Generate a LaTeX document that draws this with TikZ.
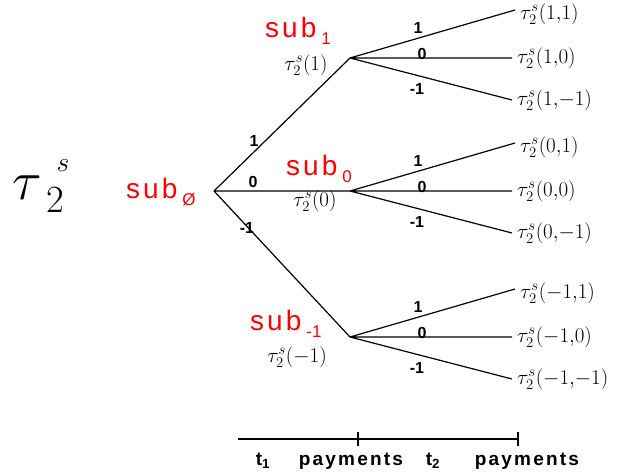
\RequirePackage{fix-cm}
\documentclass[tikz,border=0pt]{standalone}
\usepackage{fontspec}
\setsansfont{Liberation Sans}
\usetikzlibrary{calc,positioning}
\tikzset{
  branch/.style   = {line width=1.2pt},
  axisline/.style = {line width=2.2pt},
  lab/.style      = {font=\sffamily\bfseries\fontsize{16}{18}\selectfont, inner sep=1pt},
  leaf/.style     = {anchor=west, inner xsep=5pt, inner ysep=1pt, font=\fontsize{21}{23}\selectfont},
  tauname/.style  = {font=\fontsize{21}{23}\selectfont, inner sep=1pt},
  subname/.style  = {anchor=base west, text=red, font=\sffamily\fontsize{28}{30}\selectfont, inner sep=0pt},
  axlab/.style    = {font=\sffamily\bfseries\fontsize{19}{21}\selectfont, inner sep=1pt},
}
% spaced letters, as in the slide
\def\spread#1{\spreadloop#1\relax}
\def\spreadloop#1{\ifx#1\relax\else#1\kern2.2pt\expandafter\spreadloop\fi}
\newcommand{\subword}[1]{s\kern3pt u\kern3pt b\kern5pt\raisebox{-7pt}{\fontsize{17}{18}\selectfont #1}}

\begin{document}
\begin{tikzpicture}[x=1pt,y=-1pt]
  \useasboundingbox (0,0) rectangle (620,475);
  % vertices of the tree
  \coordinate (root) at (214,191);
  \coordinate (s1)   at (350,58);
  \coordinate (s0)   at (350,191);
  \coordinate (sm1)  at (350,337);
  \node[font=\fontsize{55}{60}\selectfont] (title) at (41,186)
    {$\tau_{\mkern5mu 2}^{\mkern7mu\raisebox{8pt}{$\scriptscriptstyle s$}}$};
  \node[subname] (nroot) at (126,198) {\subword{Ø}};
  \node[subname] (n1)  at (265,37)  {\subword{1}};
  \node[subname] (n0)  at (286,175) {\subword{0}};
  \node[subname] (nm1) at (250,330) {\subword{-1}};
  \node[tauname] (t1)  at (306,65)  {$\tau_2^s(1)$};
  \node[tauname] (t0)  at (315,201) {$\tau_2^s(0)$};
  \node[tauname] (tm1) at (297,357) {$\tau_2^s({-}1)$};
  % first period
  \draw[branch] (root) -- (s1) (root) -- (s0) (root) -- (sm1);
  \node[lab] (e1)  at (254,141) {1};
  \node[lab] (e0)  at (253,182) {0};
  \node[lab] (em1) at (247,228) {-1};
  % second period
  \foreach \n/\v in {s1/1,s0/0,sm1/-1} {
    \node[leaf] (\n a) at ($(\n)+(165,-44)$) {$\tau_2^s(\v{,}1)$};
    \node[leaf] (\n b) at ($(\n)+(162,0)$)   {$\tau_2^s(\v{,}0)$};
    \node[leaf] (\n c) at ($(\n)+(162,42)$)  {$\tau_2^s(\v{,}{-}1)$};
    \draw[branch] (\n) -- ([yshift=4pt]\n a.west) (\n) -- (\n b.west) (\n) -- (\n c.west);
    \node[lab] (\n la) at ($(\n)+(68,-30)$) {1};
    \node[lab] (\n lb) at ($(\n)+(72,-4)$)  {0};
    \node[lab] (\n lc) at ($(\n)+(67,31)$)  {-1};
  }
  % time axis
  \coordinate (ax0) at (238,439);
  \coordinate (ax1) at (358,439);
  \coordinate (ax2) at (518,439);
  \draw[axisline] (ax0) -- (ax2);
  \draw[axisline] ([yshift=7pt]ax1) -- ([yshift=-7pt]ax1);
  \draw[axisline] ([yshift=7pt]ax2) -- ([yshift=-7pt]ax2);
  \node[axlab] (p1) at (263,461) {t\textsubscript{1}};
  \node[axlab] (q1) at (352,461) {\spread{payments}};
  \node[axlab] (p2) at (433,461) {t\textsubscript{2}};
  \node[axlab] (q2) at (528,461) {\spread{payments}};
\end{tikzpicture}
\end{document}
